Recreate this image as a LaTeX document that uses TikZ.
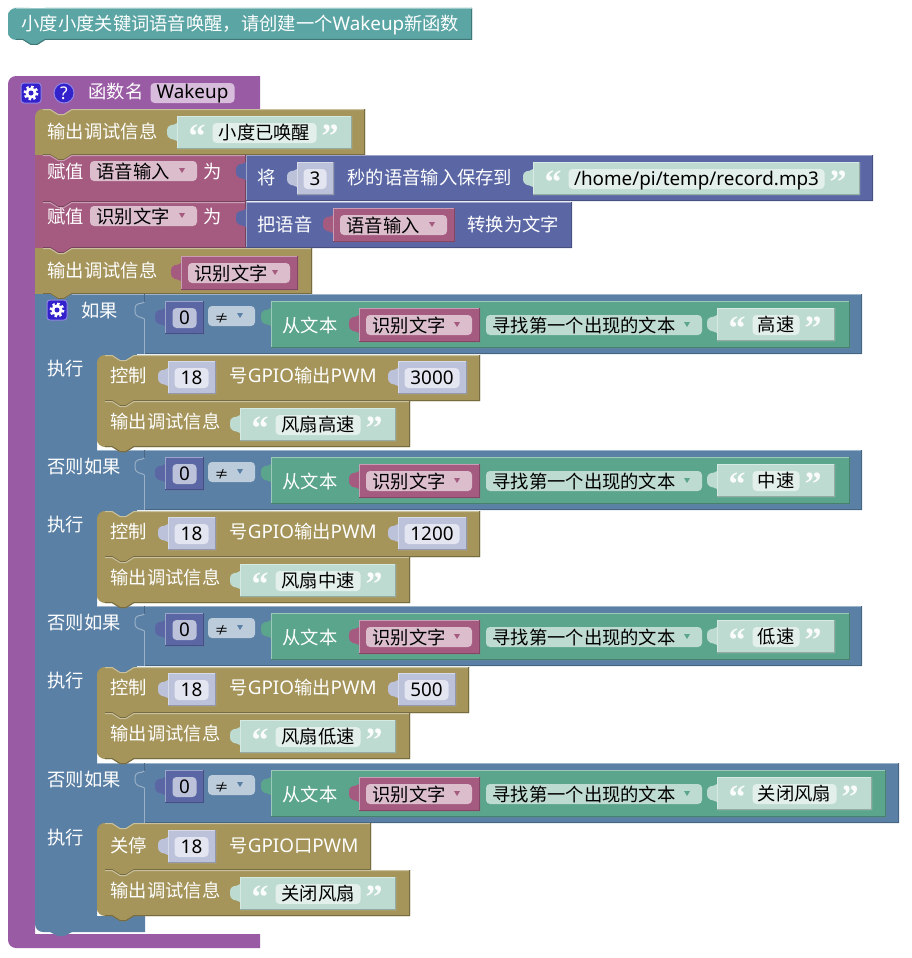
\documentclass[tikz,border=0pt]{standalone}
\usepackage{fontspec}
\setmainfont{Noto Sans CJK SC}
\newfontfamily\lat[Scale=1.03]{Noto Sans}
\newfontfamily\quotefont{Liberation Serif}
\usetikzlibrary{positioning}
\definecolor{cmtC}{HTML}{5BA5A5}
\definecolor{funC}{HTML}{9A5BA5}
\definecolor{prtC}{HTML}{A5955B}
\definecolor{varC}{HTML}{A55B80}
\definecolor{mathC}{HTML}{5B67A5}
\definecolor{ifC}{HTML}{5B80A5}
\definecolor{txtC}{HTML}{5BA58C}
\definecolor{shadT}{HTML}{BDDBD1}
\definecolor{shadN}{HTML}{BDC2DB}
\definecolor{fldT}{HTML}{E3EFEB}
\definecolor{fldN}{HTML}{E3E5F0}
\definecolor{fldV}{HTML}{DBBDCC}
\definecolor{fldI}{HTML}{BDCCDB}
\definecolor{fldF}{HTML}{D7BDDB}
\definecolor{iconC}{HTML}{3322CC}

% statement block: colour, x1, y1, x2, y2, top-left radius, bottom-left radius
\newcommand{\stmt}[7]{
	\fill[#1] [rounded corners=#6pt] (#2,#3+12) -- (#2,#3) -- (#2+14,#3) [sharp corners] -- (#2+15,#3)
		-- (#2+23,#3+5) -- (#2+29,#3+5) -- (#2+37,#3) -- (#4,#3) -- (#4,#5) -- (#2+37,#5)
		-- (#2+29,#5+5) -- (#2+23,#5+5) -- (#2+15,#5) -- (#2+14,#5) [rounded corners=#7pt]
		-- (#2,#5) -- (#2,#5-12) -- cycle;
	\draw[#1!60!white] (#2+8,#3+.5) -- (#2+15,#3+.5) -- (#2+23,#3+5.5) -- (#2+29,#3+5.5)
		-- (#2+37,#3+.5) -- (#4,#3+.5);
	\draw[#1!72!black] (#4-.5,#3) -- (#4-.5,#5-.5) -- (#2+37,#5-.5) -- (#2+29,#5+4.5)
		-- (#2+23,#5+4.5) -- (#2+15,#5-.5) -- (#2+8,#5-.5);
}
% value block with its tab: colour, x1, y1, x2, y2
\newcommand{\valb}[5]{
	\fill[#1] (#2,#3) -- (#4,#3) -- (#4,#5) -- (#2,#5) -- (#2,#3+25)
		.. controls (#2-4,#3+22) and (#2-10,#3+25) .. (#2-10,#3+16)
		.. controls (#2-10,#3+6) and (#2-4,#3+11) .. (#2,#3+7) -- cycle;
	\draw[#1!60!white] (#2+.5,#5) -- (#2+.5,#3+.5) -- (#4,#3+.5);
	\draw[#1!78!black] (#4-.5,#3) -- (#4-.5,#5-.5) -- (#2,#5-.5);
}
% text field with centred text: name, x1, x2, y centre, fill, text
\newcommand{\fld}[6]{
	\node[field,fill=#5,minimum width={(#3-(#2))*1pt}] (#1) at (#2,#4) {#6};
}
% dropdown field: name, x1, x2, y centre, fill, arrow colour, text
\newcommand{\ddf}[7]{
	\fill[#5,rounded corners=4pt] (#2,#4-10) rectangle (#3,#4+10);
	\node[lbl,text=black] (#1) at (#2+6,#4) {#7};
	\fill[#6] (#3-18,#4-3) -- (#3-12,#4-3) -- (#3-15,#4+2) -- cycle;
}
% variable block: name, x1, x2, y1, text
\newcommand{\varb}[5]{
	\valb{varC}{#2}{#4}{#3}{#4+34}
	\ddf{#1}{#2+7}{#3-8}{#4+17}{fldV}{varC}{#5}
}
% number block: name, x1, x2, y1, text
\newcommand{\numb}[5]{
	\valb{shadN}{#2}{#4}{#3}{#4+33}
	\fld{#1}{#2+6}{#3-8}{#4+17}{fldN}{\lat #5}
}
% quoted text block: name, x1, x2, y1, text
\newcommand{\qblock}[5]{
	\valb{shadT}{#2}{#4}{#3}{#4+33}
	\node[quo] (#1o) at (#2+20,#4+20) {“};
	\node[quo] (#1c) at (#3-22,#4+20) {”};
	\fld{#1}{#2+35}{#3-36}{#4+17}{fldT}{#5}
}
% gear button: name, x, y centre
\newcommand{\gearbtn}[3]{
	\node[iconbox] (#1) at (#2,#3) {};
	\fill[white] (#1) circle (5.6);
	\draw[white,line width=2.4pt,dash pattern=on 2.4pt off 2.45pt] (#1) circle (6.2);
	\fill[iconC] (#1) circle (2.5);
}
% socket drawn on the line of a header row: x, y
\newcommand{\sock}[2]{
	\draw[ifC!62!white] (#1-.5,#2+25) .. controls (#1-4,#2+22) and (#1-10,#2+25) .. (#1-10,#2+16)
		.. controls (#1-10,#2+7) and (#1-4,#2+11) .. (#1-.5,#2+8);
	\draw[ifC!62!white] (#1-.5,#2+25) -- (#1-.5,#2+60);
	\draw[ifC!80!black] (#1-.5,#2) -- (#1-.5,#2+8);
}
% condition row: key, y offset, row right, green right, quote right, text
\newcommand{\condrow}[6]{
	\sock{145}{294+#2}
	\valb{mathC}{165}{301+#2}{204}{334+#2}
	\fld{zero#1}{172}{196}{318+#2}{shadN}{\lat 0}
	\ddf{neq#1}{208}{255}{316+#2}{fldI}{ifC}{{\fontsize{14}{14}\selectfont ≠}}
	\valb{txtC}{271}{301+#2}{#4}{348+#2}
	\node[lbl] (from#1) at (282,325+#2) {从文本};
	\varb{vr#1}{359}{480}{308+#2}{识别文字}
	\ddf{find#1}{486}{702}{325+#2}{shadT}{txtC}{寻找第一个出现的文本}
	\qblock{key#1}{717}{#5}{308+#2}{#6}
}
% control row: key, y offset, block right, number right, value
\newcommand{\ctlrow}[5]{
	\stmt{prtC}{97}{355+#2}{#3}{401+#2}{8}{0}
	\node[lbl] (ctl#1) at (110,375+#2) {控制};
	\numb{pin#1}{168}{216}{361+#2}{18}
	\node[lbl] (pwm#1) at (229,375+#2) {号{\lat GPIO}输出{\lat PWM}};
	\numb{duty#1}{398}{#4}{361+#2}{#5}
}
% debug print row under a control row: key, y offset, text
\newcommand{\logrow}[3]{
	\stmt{prtC}{97}{401+#2}{410}{447+#2}{0}{8}
	\node[lbl] (log#1) at (110,421+#2) {输出调试信息};
	\qblock{logq#1}{240}{396}{408+#2}{#3}
}

\begin{document}
\begin{tikzpicture}[x=1pt,y=-1pt,line width=1pt]
	\tikzset{every node/.style = {font=\fontsize{18.3}{20}\selectfont, inner sep=0pt, text height=16pt, text depth=2pt}}
	\tikzset{lbl/.style = {anchor=west, text=white}}
	\tikzset{field/.style = {anchor=west, rounded corners=4pt, minimum height=20pt, text=black, text height=15pt, text depth=3pt}}
	\tikzset{quo/.style = {font=\fontsize{34}{34}\quotefont\bfseries, text=white!92!shadT, text height=, text depth=}}
	\tikzset{iconbox/.style = {shape=rectangle, fill=iconC, draw=iconC!55!white, rounded corners=3pt, minimum size=20pt}}
	\useasboundingbox (0,0) rectangle (912,958);

	% comment
	\stmt{cmtC}{8}{8}{472}{40}{8}{8}
	\fill[cmtC] (22,8) rectangle (46,14);
	\draw[cmtC!60!white] (16,8.5) -- (472,8.5);
	\node[lbl] (title) at (21,24) {小度小度关键词语音唤醒，请创建一个{\lat Wakeup}新函数};

	% function frame
	\fill[funC] [rounded corners=8pt] (8,100) -- (8,76) -- (30,76) [sharp corners] -- (260,76) -- (260,109)
		-- (35,109) -- (35,934) -- (260,934) -- (260,948) -- (30,948) [rounded corners=8pt] -- (8,948) -- (8,900) -- cycle;
	\gearbtn{gearF}{31}{93}
	\node[shape=circle,fill=iconC,draw=iconC!55!white,minimum size=20pt,text=white,font=\fontsize{17}{17}\lat\bfseries,text height=12.5pt,text depth=0pt] (help) at (64,93) {?};
	\node[lbl] (fname) at (88,92) {函数名};
	\fld{wakeup}{150}{234}{93}{fldF}{\lat Wakeup}
	\fill[funC] (35,108) rectangle (75,118);

	% top rows
	\stmt{prtC}{35}{109}{365}{155}{8}{0}
	\node[lbl] (log0) at (47,131) {输出调试信息};
	\qblock{awake}{177}{352}{116}{小度已唤醒}

	\stmt{varC}{35}{155}{246}{202}{0}{0}
	\node[lbl] (setA) at (47,171) {赋值};
	\ddf{voice}{90}{197}{171}{fldV}{varC}{语音输入}
	\node[lbl] (asA) at (203,171) {为};
	\valb{mathC}{246}{155}{873}{201}
	\node[lbl] (holdA) at (257,177) {将};
	\numb{secs}{297}{334}{162}{3}
	\node[lbl] (saveA) at (347,177) {秒的语音输入保存到};
	\qblock{path}{533}{860}{162}{\lat /home/pi/temp/record.mp3}

	\stmt{varC}{35}{202}{246}{248}{0}{0}
	\node[lbl] (setB) at (47,216) {赋值};
	\ddf{recog}{90}{197}{216}{fldV}{varC}{识别文字}
	\node[lbl] (asB) at (203,216) {为};
	\valb{mathC}{246}{202}{572}{248}
	\node[lbl] (toA) at (257,224) {把语音};
	\varb{vrIn}{333}{455}{208}{语音输入}
	\node[lbl] (toB) at (467,224) {转换为文字};

	\stmt{prtC}{35}{248}{312}{294}{0}{0}
	\node[lbl] (log1) at (47,270) {输出调试信息};
	\varb{vrOut}{181}{298}{256}{识别文字}

	% if / else-if frame
	\fill[ifC] [rounded corners=0pt] (35,294) -- (50,294) -- (58,299) -- (64,299) -- (72,294) -- (862,294) -- (862,354)
		-- (97,354) -- (97,450) -- (862,450) -- (862,510) -- (97,510) -- (97,606) -- (862,606) -- (862,666)
		-- (97,666) -- (97,763) -- (899,763) -- (899,823) -- (97,823) -- (97,916) -- (145,916) -- (145,932)
		-- (72,932) -- (64,936) -- (58,936) -- (50,932) [rounded corners=8pt] -- (35,932) -- (35,900) [sharp corners] -- cycle;
	\draw[ifC!60!white] (72,294.5) -- (862,294.5);
	\draw[ifC!60!white] (97,450.5) -- (862,450.5);
	\draw[ifC!60!white] (97,606.5) -- (862,606.5);
	\draw[ifC!60!white] (97,763.5) -- (899,763.5);
	\draw[ifC!78!black] (861.5,294) -- (861.5,353.5) -- (145,353.5);
	\draw[ifC!78!black] (861.5,450) -- (861.5,509.5) -- (145,509.5);
	\draw[ifC!78!black] (861.5,606) -- (861.5,665.5) -- (145,665.5);
	\draw[ifC!78!black] (898.5,763) -- (898.5,822.5) -- (145,822.5);
	\fill[ifC] (97,354) rectangle (137,365);
	\fill[ifC] (97,510) rectangle (137,521);
	\fill[ifC] (97,666) rectangle (137,677);
	\fill[ifC] (97,823) rectangle (137,834);

	\gearbtn{gearI}{57}{310}
	\node[lbl] (condA) at (81,310) {如果};
	\node[lbl] (doA) at (47,368) {执行};
	\node[lbl] (condB) at (47,466) {否则如果};
	\node[lbl] (doB) at (47,524) {执行};
	\node[lbl] (condC) at (47,622) {否则如果};
	\node[lbl] (doC) at (47,680) {执行};
	\node[lbl] (condD) at (47,779) {否则如果};
	\node[lbl] (doD) at (47,837) {执行};

	\condrow{A}{0}{862}{850}{835}{高速}
	\ctlrow{A}{0}{480}{467}{3000}
	\logrow{A}{0}{风扇高速}

	\condrow{B}{156}{862}{850}{835}{中速}
	\ctlrow{B}{156}{480}{467}{1200}
	\logrow{B}{156}{风扇中速}

	\condrow{C}{312}{862}{850}{835}{低速}
	\ctlrow{C}{312}{469}{456}{500}
	\logrow{C}{312}{风扇低速}

	\condrow{D}{469}{899}{886}{872}{关闭风扇}
	\stmt{prtC}{97}{823}{371}{870}{8}{0}
	\node[lbl] (ctlD) at (110,845) {关停};
	\numb{pinD}{168}{216}{830}{18}
	\node[lbl] (pwmD) at (229,845) {号{\lat GPIO}口{\lat PWM}};
	\logrow{D}{469}{关闭风扇}
\end{tikzpicture}
\end{document}
